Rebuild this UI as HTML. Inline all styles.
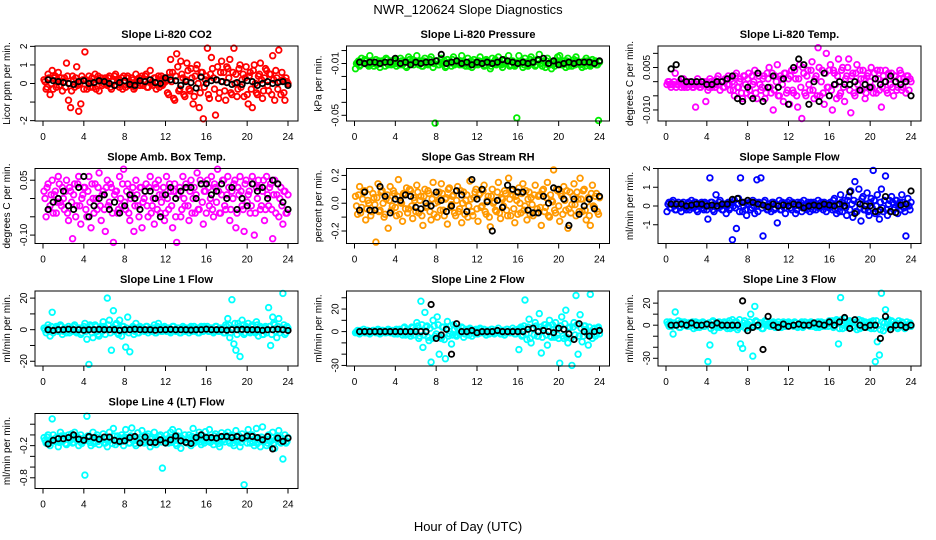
<!DOCTYPE html>
<html><head><meta charset="utf-8"><style>
html,body{margin:0;padding:0;background:#fff}
svg{display:block;font-family:"Liberation Sans",sans-serif}
</style></head><body>
<svg id="chart" width="936" height="540" viewBox="0 0 936 540" xmlns="http://www.w3.org/2000/svg">
<text x="468" y="14" font-size="13" text-anchor="middle">NWR_120624  Slope Diagnostics</text>
<text x="468" y="531" font-size="13" text-anchor="middle">Hour of Day (UTC)</text>
<g id="panels"></g>
</svg>
<script>
// shared x values (hour of day)
const colorHours = [];
for (let i = 0; i < 120; i++) colorHours.push(+(0.1 + 0.2 * i).toFixed(2));
const coreHours = [];
for (let i = 0; i < 120; i++) coreHours.push(+(0.2 + 0.2 * i).toFixed(2));
const blackHours = [];
for (let i = 0; i < 48; i++) blackHours.push(0.5 * (i + 1));
const xTicks = [0, 4, 8, 12, 16, 20, 24];

const co2Vals = [0.2,-0.3,0.5,-0.6,0.7,0.3,-0.2,0.6,0.1,-0.4, 0.3,1.1,-0.9,-1.3,0.4,-0.2,0.9,-1.5,-1.1,0.2, 1.7,-0.3,0.4,0.1,-0.2,0.5,0.2,-0.4,0.3,0.0, 0.3,-0.1,0.4,-0.3,0.2,0.5,0.1,-0.2,0.3,0.4, -0.2,0.4,0.1,0.3,-0.3,0.5,0.2,-0.1,0.4,0.2, 0.5,-0.2,0.7,0.1,0.3,-0.3,0.4,0.2,-0.1,0.3, 0.2,-0.6,1.3,0.6,-0.9,1.6,-0.4,1.2,0.3,-0.7, 1.1,-0.3,0.8,-1.1,0.4,1.0,-1.3,0.6,-1.9,0.2, 1.9,-0.8,1.4,0.3,-1.7,0.9,-0.5,1.2,0.6,-0.9, 0.8,1.3,-0.6,1.9,0.5,-0.3,1.0,0.2,-0.7,0.9, -1.1,0.6,-1.3,1.0,-0.5,0.4,1.1,-0.8,0.3,0.7, -0.4,0.5,1.5,-0.9,0.3,1.8,-0.6,0.2,-0.9,0.1];
const co2Core = [0.1,-0.2,0.3,0.0,-0.3,0.4,0.2,-0.1,0.3,0.1, -0.2,0.4,0.0,-0.4,0.2,0.3,-0.1,0.0,0.4,-0.3, 0.2,0.1,-0.2,0.3,0.0,-0.3,0.4,0.1,-0.1,0.2, 0.0,0.3,-0.2,0.1,0.4,-0.1,0.2,0.0,-0.3,0.1, 0.3,-0.1,0.0,0.2,-0.2,0.1,0.3,0.0,-0.1,0.4, -0.2,0.2,0.0,-0.1,0.3,0.1,-0.2,0.4,0.0,0.1, -0.5,0.6,0.1,-0.8,0.4,0.9,-0.3,0.5,-0.6,0.2, 0.7,-0.4,0.3,-0.7,0.8,0.0,-0.5,0.6,-0.2,0.4, -0.6,0.5,0.8,-0.3,0.2,-0.8,0.6,0.1,-0.4,0.9, 0.3,-0.5,0.6,0.0,-0.7,0.8,-0.2,0.5,0.3,-0.6, 0.4,-0.3,0.7,0.0,-0.6,0.5,0.2,-0.4,0.8,-0.1, 0.5,-0.6,0.2,0.7,-0.3,0.1,0.6,-0.5,0.3,0.0];
const co2Black = [0.2,0.15,0.1,0.05,0,-0.05,0.1,0.15,0.0,0.05,0.15,0.1,0.0,-0.1,0.05,0.15,-0.05,-0.1,0.15,0.1,0.2,0.05,0.0,0.3,0.2,0.15,-0.1,0.1,0.05,-0.25,0.35,0.0,0.15,0.2,0.1,0.05,-0.05,0.05,-0.05,0.15,0.1,-0.1,0.0,0.1,0.0,0.05,0.1,-0.1];

const presVals = [-0.014,-0.009,-0.012,-0.006,-0.010,-0.008,-0.011,-0.004,-0.009,-0.012, -0.007,-0.010,-0.013,-0.008,-0.009,-0.006,-0.011,-0.008,-0.010,-0.007, -0.012,-0.009,-0.006,-0.011,-0.008,-0.013,-0.005,-0.010,-0.007,-0.009, -0.004,-0.011,-0.008,-0.012,-0.006,-0.009,-0.010,-0.005,-0.013,-0.056, -0.008,-0.011,-0.006,-0.010,-0.013,-0.007,-0.009,-0.012,-0.005,-0.010, -0.008,-0.011,-0.004,-0.009,-0.012,-0.006,-0.010,-0.013,-0.007,-0.009, -0.011,-0.005,-0.009,-0.012,-0.007,-0.010,-0.014,-0.006,-0.009,-0.011, -0.005,-0.010,-0.013,-0.007,-0.009,-0.004,-0.011,-0.008,-0.012,-0.052, -0.004,-0.010,-0.013,-0.006,-0.009,-0.011,-0.005,-0.008,-0.012,-0.007, -0.003,-0.010,-0.008,-0.013,-0.006,-0.011,-0.014,-0.008,-0.010,-0.005, -0.004,-0.011,-0.008,-0.013,-0.006,-0.010,-0.012,-0.007,-0.005,-0.009, -0.011,-0.013,-0.008,-0.006,-0.010,-0.012,-0.007,-0.009,-0.011,-0.054];
const presCore = [-0.010,-0.008,-0.011,-0.009,-0.007,-0.010,-0.012,-0.008,-0.010,-0.009, -0.011,-0.008,-0.010,-0.009,-0.012,-0.007,-0.009,-0.011,-0.008,-0.010, -0.009,-0.011,-0.008,-0.010,-0.012,-0.009,-0.007,-0.010,-0.011,-0.008, -0.010,-0.009,-0.012,-0.008,-0.010,-0.011,-0.007,-0.009,-0.010,-0.008, -0.011,-0.009,-0.010,-0.008,-0.012,-0.010,-0.009,-0.007,-0.011,-0.009, -0.010,-0.008,-0.011,-0.009,-0.010,-0.012,-0.008,-0.009,-0.011,-0.010, -0.008,-0.010,-0.009,-0.011,-0.008,-0.010,-0.012,-0.009,-0.007,-0.010, -0.009,-0.011,-0.008,-0.010,-0.009,-0.012,-0.008,-0.010,-0.011,-0.009, -0.010,-0.008,-0.011,-0.009,-0.012,-0.007,-0.010,-0.009,-0.011,-0.008, -0.010,-0.012,-0.009,-0.008,-0.011,-0.010,-0.009,-0.012,-0.008,-0.010, -0.009,-0.011,-0.010,-0.008,-0.012,-0.009,-0.010,-0.011,-0.008,-0.010, -0.009,-0.010,-0.012,-0.008,-0.011,-0.009,-0.010,-0.008,-0.011,-0.009];
const presBlack = [-0.009,-0.010,-0.009,-0.009,-0.010,-0.009,-0.009,-0.006,-0.010,-0.009,-0.011,-0.009,-0.010,-0.009,-0.009,-0.008,-0.003,-0.010,-0.009,-0.008,-0.010,-0.009,-0.011,-0.009,-0.010,-0.009,-0.010,-0.009,-0.007,-0.008,-0.009,-0.010,-0.009,-0.010,-0.009,-0.007,-0.006,-0.010,-0.008,-0.011,-0.010,-0.009,-0.010,-0.009,-0.009,-0.009,-0.010,-0.008];

const tempVals = [-0.001,0.000,-0.002,-0.001,0.003,-0.001,0.000,-0.002,0.001,-0.001, -0.002,0.000,-0.001,-0.002,-0.009,0.001,-0.002,-0.001,0.000,-0.007, -0.003,0.001,-0.002,0.000,-0.001,0.002,-0.003,0.000,-0.002,0.001, 0.002,-0.003,0.000,-0.005,0.003,-0.002,0.001,-0.006,0.002,-0.004, 0.003,-0.005,-0.001,0.004,-0.006,0.002,-0.003,0.001,-0.006,0.003, 0.005,-0.004,-0.010,0.002,0.006,-0.005,0.001,-0.007,0.003,-0.003, -0.008,0.004,-0.004,0.001,-0.009,0.006,-0.013,0.003,-0.005,0.004, -0.003,0.007,-0.006,0.002,0.012,-0.005,0.004,-0.008,0.010,-0.002, 0.006,-0.010,0.003,-0.006,0.008,-0.004,0.005,-0.007,0.002,0.008, -0.011,0.003,-0.005,0.006,-0.003,0.001,0.004,-0.006,0.002,-0.002, 0.005,-0.004,0.001,0.004,-0.003,-0.009,0.002,0.004,-0.004,0.001, 0.003,-0.005,0.002,-0.002,0.004,-0.003,0.001,-0.004,0.002,0.001];
const tempCore = [0.000,-0.001,-0.001,0.000,-0.002,-0.001,0.000,-0.001,-0.002,0.000, -0.001,0.000,-0.002,-0.001,0.000,-0.001,-0.002,0.000,-0.001,0.000, -0.002,0.000,-0.001,-0.002,0.001,-0.001,0.000,-0.002,0.001,-0.001, -0.001,0.001,-0.003,0.002,-0.002,0.000,-0.004,0.002,-0.001,0.001, -0.003,0.002,0.000,-0.004,0.003,-0.001,-0.002,0.002,-0.004,0.001, -0.002,0.003,-0.003,0.000,-0.005,0.002,-0.001,0.003,-0.004,0.001, 0.002,-0.003,0.004,-0.005,0.001,-0.002,0.005,-0.004,0.002,-0.001, 0.004,-0.003,0.001,-0.005,0.005,0.000,-0.004,0.003,-0.002,0.004, -0.003,0.004,-0.001,0.002,-0.005,0.004,-0.002,0.001,0.005,-0.003, 0.002,-0.004,0.003,-0.001,0.004,-0.003,0.001,-0.004,0.003,0.000, -0.002,0.003,-0.004,0.001,0.004,-0.002,0.000,-0.003,0.003,-0.001, -0.002,0.002,-0.003,0.001,0.003,-0.002,0.000,0.002,-0.003,0.000];
const tempBlack = [0.0045,0.006,0.001,0.0,0.0,0.0,0.0,-0.001,-0.001,0.0,0.0,0.001,0.002,-0.006,-0.007,-0.002,-0.006,0.003,-0.007,-0.002,0.002,-0.002,0.001,-0.008,0.005,0.008,0.006,-0.008,0.0,-0.007,0.003,-0.005,-0.001,0.0,-0.001,-0.001,0.0,-0.003,-0.001,-0.002,0.001,-0.001,0.0,0.002,0.0,-0.001,0.0,-0.005];

const ambVals = [0.02,-0.05,0.04,-0.02,0.05,0.01,-0.04,0.06,-0.01,0.03, -0.03,0.05,-0.06,0.02,-0.11,0.04,-0.02,0.06,-0.07,0.01, 0.03,-0.05,0.06,-0.08,0.00,0.04,-0.03,0.07,-0.06,0.02, -0.09,0.05,-0.01,0.03,-0.12,0.02,-0.04,0.06,-0.02,0.08, -0.03,0.04,-0.06,0.01,-0.09,0.05,-0.02,0.03,-0.08,0.00, 0.04,-0.05,0.06,-0.02,-0.07,0.03,0.05,-0.04,0.01,-0.06, 0.06,-0.03,0.02,-0.08,0.04,-0.12,0.01,-0.05,0.06,-0.02, 0.03,-0.06,0.05,0.00,-0.04,0.07,-0.03,0.04,-0.07,0.02, 0.05,-0.02,0.06,-0.05,0.03,0.08,-0.04,0.01,0.05,-0.03, 0.06,-0.06,0.02,0.04,-0.08,0.03,0.06,-0.02,-0.09,0.05, 0.01,-0.04,0.06,-0.10,0.03,0.05,-0.03,0.02,-0.06,0.06, -0.02,0.04,-0.11,0.05,0.01,-0.05,0.03,-0.07,0.02,-0.04];
const ambCore = [0.00,0.03,-0.03,0.01,-0.04,0.02,-0.01,0.04,-0.02,0.00, 0.02,-0.04,0.03,-0.01,0.01,-0.05,0.04,-0.02,0.00,0.03, -0.03,0.02,-0.01,0.04,-0.04,0.00,0.03,-0.02,0.01,-0.03, 0.03,-0.02,0.04,-0.04,0.01,0.02,-0.03,0.00,0.04,-0.01, 0.02,-0.04,0.00,0.03,-0.02,0.01,-0.05,0.03,-0.01,0.02, -0.02,0.03,-0.04,0.00,0.04,-0.03,0.01,-0.01,0.03,-0.04, 0.00,0.04,-0.02,0.02,-0.05,0.01,0.03,-0.03,0.00,0.04, -0.02,0.02,-0.04,0.03,0.01,-0.03,0.05,-0.01,0.02,-0.04, 0.03,0.00,-0.03,0.04,-0.01,0.02,-0.04,0.05,-0.02,0.01, 0.03,-0.03,0.00,0.05,-0.04,0.01,0.02,-0.03,0.04,-0.01, 0.02,-0.02,0.04,-0.04,0.00,0.03,-0.02,0.05,-0.03,0.01, 0.03,-0.03,0.01,-0.04,0.04,0.00,-0.02,0.02,-0.04,0.01];
const ambBlack = [-0.03,-0.01,0.00,0.02,-0.02,-0.03,0.03,0.06,-0.05,-0.02,0.00,0.01,-0.03,-0.01,-0.04,-0.02,0.01,0.00,-0.03,0.02,0.02,0.00,-0.05,0.01,0.03,0.00,0.02,0.03,0.03,0.00,0.04,0.04,0.01,0.02,0.04,0.00,0.03,-0.03,0.00,-0.02,0.04,0.02,0.03,0.00,0.05,0.04,-0.01,-0.03];

const rhVals = [0.05,-0.08,0.12,-0.03,0.08,-0.12,0.02,0.10,-0.06,0.04, -0.28,0.14,-0.05,0.09,-0.10,0.03,-0.18,0.12,-0.02,0.07, -0.09,0.17,0.01,-0.13,0.06,0.11,-0.04,0.09,-0.11,0.02, 0.13,-0.07,0.05,-0.16,0.10,-0.02,0.07,-0.12,0.15,0.00, -0.10,0.08,0.14,-0.05,0.03,-0.15,0.11,-0.01,0.06,-0.09, 0.12,-0.04,-0.14,0.08,0.02,-0.10,0.16,-0.06,0.04,0.10, -0.13,0.07,-0.02,0.13,-0.08,0.05,-0.17,0.10,0.01,-0.06, 0.15,-0.11,0.03,0.09,-0.05,0.18,-0.09,0.06,-0.14,0.02, 0.11,-0.07,0.14,-0.02,-0.12,0.08,0.04,-0.09,0.13,-0.04, 0.06,-0.16,0.10,-0.03,0.15,-0.10,0.02,0.24,-0.07,0.09, -0.13,0.05,0.12,-0.05,-0.18,0.08,-0.01,0.14,-0.09,0.03, 0.18,-0.06,0.10,-0.12,0.04,-0.16,0.13,-0.03,0.07,-0.08];
const rhCore = [-0.02,0.06,-0.07,0.03,0.09,-0.04,0.00,-0.09,0.07,-0.01, 0.04,-0.06,0.08,0.00,-0.08,0.06,0.02,-0.05,0.09,-0.03, 0.05,-0.08,0.00,0.07,-0.04,-0.07,0.10,-0.02,0.04,-0.06, 0.08,0.02,-0.09,0.05,-0.03,0.09,-0.06,0.03,-0.08,0.06, 0.01,-0.05,0.07,-0.09,0.04,0.10,-0.03,0.05,-0.07,0.02, -0.06,0.09,0.00,-0.08,0.06,-0.02,0.03,-0.09,0.08,-0.04, 0.06,-0.03,0.09,-0.06,0.02,-0.10,0.05,0.00,-0.05,0.08, -0.07,0.04,-0.02,0.07,-0.09,0.03,0.09,-0.04,0.05,-0.08, 0.00,0.07,-0.05,0.09,0.03,-0.08,-0.01,0.06,-0.07,0.05, -0.03,0.09,-0.06,0.04,-0.09,0.06,0.01,-0.05,0.10,-0.02, 0.07,-0.08,0.02,0.09,-0.04,-0.07,0.05,-0.01,0.08,-0.06, 0.03,0.09,-0.05,0.01,-0.09,0.07,-0.02,0.05,-0.06,0.04];
const rhBlack = [-0.05,0.08,-0.05,-0.05,0.12,0.05,-0.07,0.03,0.02,0.06,0.05,-0.03,-0.04,0.00,-0.02,0.08,0.02,-0.06,-0.02,0.09,0.06,-0.06,0.17,0.03,0.10,0.01,-0.20,0.02,-0.03,0.13,0.10,0.08,0.08,-0.05,-0.07,-0.07,0.05,0.00,0.11,0.10,0.03,-0.16,0.03,-0.08,-0.02,0.03,-0.04,0.05];

const flowVals = [-0.3,0.2,-0.1,0.3,-0.2,0.1,0.0,-0.3,0.2,-0.1, 0.1,-0.2,0.3,-0.1,0.2,-0.3,0.0,0.2,-0.2,0.1, -0.7,1.5,0.2,-0.3,0.6,-0.1,0.3,-0.2,0.1,-0.4, 0.2,-0.1,-1.8,0.3,-1.2,0.4,1.5,-0.3,0.2,-0.5, 0.1,-0.2,0.3,-0.4,1.4,0.2,1.5,-1.6,0.3,-0.2, 0.1,-0.3,0.2,-0.1,-0.9,0.3,-0.2,0.1,-0.4,0.2, 0.3,-0.2,0.1,-0.4,0.2,0.0,-0.3,0.3,-0.1,0.2, -0.3,0.1,0.2,-0.2,0.3,-0.1,0.0,0.2,-0.3,0.1, 0.2,-0.2,0.4,-0.4,0.1,0.6,-0.3,0.3,-0.5,0.5, 0.8,-0.6,1.3,-0.3,0.9,-0.8,0.5,-0.2,0.7,-0.5, 0.4,1.9,-0.4,0.6,-0.7,0.9,-0.3,1.6,-0.5,0.3, 0.5,-0.2,0.3,-0.4,0.2,0.6,-0.1,-1.6,0.4,-0.2];
const flowCore = [0.1,-0.1,0.2,0.0,-0.2,0.2,-0.1,0.1,0.0,-0.2, 0.2,0.0,-0.1,0.2,-0.2,0.1,0.0,-0.1,0.2,-0.2, 0.0,0.2,-0.2,0.1,-0.1,0.2,0.0,-0.2,0.1,0.0, -0.2,0.2,0.0,-0.1,0.1,-0.3,0.2,0.0,-0.2,0.1, 0.2,-0.1,0.0,0.2,-0.3,0.1,-0.1,0.2,0.0,-0.2, 0.0,0.2,-0.2,0.1,0.0,-0.2,0.2,-0.1,0.1,0.0, -0.1,0.2,0.0,-0.2,0.1,0.2,-0.1,0.0,-0.2,0.1, 0.2,-0.2,0.0,0.1,-0.1,0.2,-0.2,0.0,0.1,-0.1, 0.0,0.3,-0.2,0.1,-0.3,0.2,0.0,-0.1,0.3,-0.2, 0.1,0.3,-0.3,0.2,-0.1,0.4,-0.2,0.1,-0.3,0.2, -0.1,0.3,0.0,-0.3,0.2,-0.1,0.3,-0.2,0.1,-0.3, 0.2,-0.1,0.3,0.0,-0.2,0.2,-0.3,0.1,0.0,0.2];
const flowBlack = [0.1,0.1,0.1,0.0,0.05,0.1,0.1,0.0,0.05,0.0,0.1,0.1,0.35,0.4,0.2,0.3,0.2,0.1,0.05,-0.05,0.1,0.0,0.05,0.0,0.1,0.05,-0.1,0.0,0.05,0.0,0.1,0.05,0.0,0.1,0.0,0.75,-0.4,0.1,0.0,0.0,-0.3,-0.2,0.5,-0.3,-0.35,0.05,0.1,0.8];

const line1Vals = [1,-2,3,-4,11,0,2,-1,3,-3, 1,-2,2,0,-1,3,-2,1,-3,0, 4,-6,-22,2,-5,3,-1,-4,2,5, -3,20,6,-13,12,3,-2,6,-4,2, -11,8,-14,1,-3,4,-2,2,0,-1, 2,-2,1,-1,3,-2,4,0,-1,2, -1,1,-2,2,0,-1,1,-2,2,-1, 1,-2,2,0,-1,1,-2,2,-1,1, 2,-1,1,-2,2,0,-1,1,-2,3, 7,-5,19,-9,-13,4,-17,6,-3,2, 4,-2,3,-1,5,-4,2,-3,1,-2, 14,-10,8,3,-5,7,0,23,-3,2];
const line1Core = [0,1,-1,2,-2,1,0,-1,2,-1, 1,0,-2,1,2,-1,0,1,-2,2, -1,1,3,-2,0,2,-3,1,-1,2, 0,3,-2,1,-1,4,-3,0,2,-1, 1,-2,0,2,-1,1,-2,1,0,-1, 2,0,-1,1,-2,2,0,-1,1,0, 1,-1,0,2,-1,1,-2,0,1,-1, 0,1,-1,2,0,-2,1,-1,2,0, -1,1,0,-1,2,-1,1,0,-2,2, 3,-2,1,4,-3,2,-1,3,-2,1, -1,2,0,-2,3,-1,1,-3,2,0, 2,-3,4,-1,2,-2,1,3,-2,1];
const line1Black = [0,-0.5,0,0,0.3,0,0,-0.3,0,0,0.2,0,0,0,-0.4,0,0,0.3,0,0,0,-0.3,0,0,0.2,0,0,0,-0.2,0,0,0.3,0,0,0,-0.3,0,0,0.2,0,0,0,-0.4,0,0,0.3,0,-0.5];

const line2Vals = [-1,1,-2,0,2,-1,1,-2,0,1, -1,2,-2,1,0,-1,2,-1,1,-2, 2,-1,1,-3,4,-2,1,-4,3,0, 8,-6,27,-14,17,5,-8,-27,10,-4, 13,-20,-6,4,-24,9,-2,-11,6,-3, 3,-2,4,-5,2,-1,3,-4,1,2, -2,3,-1,2,-3,1,0,2,-2,1, 3,-2,1,-3,2,0,-1,3,-2,1, -16,4,-3,28,-7,11,-10,2,8,-4, 16,-19,3,6,-12,10,-5,2,8,-3, -28,13,-6,19,-10,4,-30,8,32,-20, 15,-9,5,2,-12,33,-6,3,-2,4];
const line2Core = [0,-1,1,0,-1,1,0,-1,1,0, 1,-1,0,1,-1,0,1,-1,0,1, -2,2,-1,3,-3,2,-2,4,-3,2, 5,-4,6,-3,4,-5,3,-6,5,-2, 6,-5,4,-7,3,-4,5,-3,2,-4, 2,-1,3,-2,1,-3,2,0,-2,1, -1,2,0,-1,1,-2,2,0,-1,1, 0,-2,1,-1,2,-1,0,1,-2,2, 3,-4,5,-2,4,-6,3,-3,5,-4, 4,-5,6,-3,5,-4,6,-5,3,-6, 5,-4,7,-5,3,-6,4,-3,6,-4, 3,-4,5,-2,4,-3,2,-4,3,-2];
const line2Black = [0,0,0,0,0,0,0,0,0,0,0,0,0,0,24,-6,-3,2,-20,7,0,0,1,-1,0,0,0,1,0,0,0,0,0,2,3,0,1,0,-1,3,2,-2,-7,7,0,-4,0,1];

const line3Vals = [3,-1,2,-8,12,1,-2,3,0,2, -1,2,0,-3,3,1,-2,2,-1,1, -33,-18,3,-5,2,0,-2,1,3,-1, 2,-3,5,-1,3,-2,-17,-21,4,1, -2,10,-28,17,3,-1,2,-3,4,0, 2,-1,3,-2,1,0,-2,3,-1,2, 0,1,-1,2,-2,1,3,-1,0,2, -1,2,1,-2,3,0,-1,2,1,-1, 2,4,-1,5,-17,25,-3,6,-2,1, 3,-1,2,-4,5,1,-2,3,0,2, -3,4,-33,-15,-27,29,-5,14,3,-2, 4,-1,2,-3,1,3,-2,0,-1,2];
const line3Core = [1,3,-1,2,0,4,-2,1,3,0, 2,-1,3,1,-2,2,0,3,-1,1, 2,-3,4,0,-2,3,1,-1,2,-3, 4,0,-2,3,-4,5,-1,2,-3,1, 3,-2,0,4,-1,2,-3,1,3,0, -1,2,1,-2,3,0,2,-1,1,3, 2,0,3,-1,1,2,-2,3,0,1, 3,-1,2,0,-2,3,1,-1,2,4, 1,-2,4,2,-3,5,0,3,-1,4, 2,-2,3,1,-3,4,0,2,-2,3, 1,-3,4,0,-4,3,2,-2,5,0, 3,1,-2,4,0,2,-3,3,1,-1];
const line3Black = [0,0,1,0,2,0,0,1,0,2,0,0,0,0,22,-5,-2,0,-22,8,0,-2,1,-1,0,1,0,0,2,1,0,3,0,3,7,-3,5,0,-2,0,0,-12,8,-4,0,0,-2,0];

const line4Vals = [-0.05,-0.15,0.0,-0.2,0.3,-0.1,-0.05,-0.22,0.05,-0.12, -0.02,-0.18,0.0,-0.1,-0.15,0.05,-0.08,-0.2,0.0,-0.12, -0.75,0.35,-0.05,-0.2,0.05,-0.12,0.0,-0.18,-0.08,0.02, -0.15,-0.22,0.05,-0.08,0.12,-0.18,-0.02,-0.1,0.0,-0.2, 0.1,-0.05,-0.15,0.13,-0.1,-0.2,0.04,-0.08,0.08,-0.15, -0.1,0.02,-0.22,-0.05,0.05,-0.18,-0.08,0.0,-0.62,-0.1, 0.0,-0.15,0.05,0.1,-0.05,-0.2,0.06,-0.25,-0.08,0.0, -0.15,0.0,-0.2,0.12,-0.05,-0.12,0.05,-0.18,-0.02,0.06, -0.12,0.1,-0.05,-0.18,0.02,-0.1,-0.22,0.04,-0.08,0.0, 0.05,-0.15,0.0,-0.2,0.08,-0.1,-0.22,0.02,-0.93,-0.05, 0.1,-0.15,0.0,-0.2,0.12,-0.05,-0.22,0.15,-0.1,-0.2, 0.0,-0.12,0.05,-0.25,-0.1,0.08,-0.15,-0.45,0.0,-0.12];
const line4Core = [-0.1,-0.04,-0.16,-0.08,0.0,-0.12,-0.06,-0.14,-0.02,-0.1, -0.16,-0.06,-0.1,0.02,-0.14,-0.08,-0.04,-0.12,-0.16,-0.06, -0.1,-0.02,-0.14,-0.08,-0.16,-0.04,-0.12,-0.06,-0.1,-0.15, -0.05,-0.12,-0.08,-0.16,-0.02,-0.1,-0.14,-0.06,-0.12,-0.04, -0.08,-0.15,-0.02,-0.1,-0.16,-0.06,-0.12,-0.04,-0.14,-0.08, -0.02,-0.14,-0.08,-0.16,-0.06,-0.1,-0.03,-0.13,-0.07,-0.15, -0.1,-0.04,-0.14,-0.08,-0.16,-0.02,-0.12,-0.06,-0.1,-0.14, -0.06,-0.12,-0.03,-0.15,-0.08,-0.02,-0.13,-0.07,-0.15,-0.09, -0.04,-0.14,-0.08,-0.02,-0.12,-0.16,-0.06,-0.1,-0.13,-0.05, -0.11,-0.03,-0.15,-0.07,-0.12,-0.02,-0.14,-0.08,-0.05,-0.15, -0.08,-0.02,-0.14,-0.06,-0.16,-0.1,-0.04,-0.12,-0.07,-0.15, -0.1,-0.04,-0.16,-0.08,-0.02,-0.13,-0.06,-0.11,-0.15,-0.05];
const line4Black = [-0.17,-0.1,-0.07,-0.07,-0.05,0.0,-0.08,-0.1,-0.03,-0.05,-0.08,-0.04,-0.04,-0.1,-0.12,-0.11,-0.05,-0.03,-0.15,-0.04,-0.14,-0.14,-0.09,-0.15,-0.09,-0.02,-0.11,-0.14,-0.16,-0.05,0.0,-0.05,-0.05,-0.06,-0.03,-0.03,-0.05,-0.03,-0.06,-0.02,-0.03,-0.05,-0.09,-0.03,-0.26,-0.06,-0.12,-0.06];

const panelTitles = ["Slope Li-820 CO2","Slope Li-820 Pressure","Slope Li-820 Temp.","Slope Amb. Box Temp.","Slope Gas Stream RH","Slope Sample Flow","Slope Line 1 Flow","Slope Line 2 Flow","Slope Line 3 Flow","Slope Line 4 (LT) Flow"];
const yTitles = ["Licor ppm per min.","kPa per min.","degrees C per min.","degrees C per min.","percent per min.","ml/min per min.","ml/min per min.","ml/min per min.","ml/min per min.","ml/min per min."];
const yTickVals = [[-2,-1,0,1,2],[0,-0.01,-0.02,-0.03,-0.04,-0.05],[0.01,0.005,0,-0.005,-0.01],[0.05,0,-0.05,-0.1],[0.2,0.1,0,-0.1,-0.2],[2,1,0,-1],[20,10,0,-10,-20],[30,20,10,0,-10,-20,-30],[20,10,0,-10,-20,-30],[0.2,0,-0.2,-0.4,-0.6,-0.8]];
const yTickLabels = [["-2","","0","1","2"],["","-0.01","","","","-0.05"],["","0.005","","","-0.010"],["0.05","","","-0.10"],["0.2","","0.0","","-0.2"],["2","1","0","-1"],["20","","0","","-20"],["","20","","0","","","-30"],["20","","0","","","-30"],["","","-0.2","","","-0.8"]];
const yMin = [-2.02,-0.0544,-0.0139,-0.123,-0.29,-2.0,-23,-30.5,-37,-1.0];
const yMax = [2.02,0.0035,0.0126,0.082,0.25,2.0,24.5,36,31,0.4];
const seriesVals = [co2Vals,presVals,tempVals,ambVals,rhVals,flowVals,line1Vals,line2Vals,line3Vals,line4Vals];
const seriesCore = [co2Core,presCore,tempCore,ambCore,rhCore,flowCore,line1Core,line2Core,line3Core,line4Core];
const seriesBlack = [co2Black,presBlack,tempBlack,ambBlack,rhBlack,flowBlack,line1Black,line2Black,line3Black,line4Black];
const seriesColors = ["#ff0000","#00ee00","#ff00ff","#ff00ff","#ff9900","#0000ff","#00ffff","#00ffff","#00ffff","#00ffff"];
const panelKeys = ["co2","pressure","li820-temp","amb-box-temp","gas-stream-rh","sample-flow","line1-flow","line2-flow","line3-flow","line4-flow"];

const NS = "http://www.w3.org/2000/svg";
const root = document.getElementById("panels");
function mk(tag, attrs, parent) {
  const e = document.createElementNS(NS, tag);
  for (const k in attrs) e.setAttribute(k, attrs[k]);
  parent.appendChild(e);
  return e;
}
const BOX_W = 263, BOX_H = 75;
function boxOf(p) { const c = p % 3, r = Math.floor(p / 3); return { left: 35 + 311.5 * c, top: 46 + 122.5 * r }; }
function xScale(p, h) { const b = boxOf(p); return b.left + 8 + h * (245 / 24); }
function yScale(p, v) { const b = boxOf(p); return b.top + (yMax[p] - v) / (yMax[p] - yMin[p]) * BOX_H; }

for (let p = 0; p < 10; p++) {
  const b = boxOf(p);
  const g = mk("g", {}, root);
  
  
  const t = mk("text", { x: b.left + BOX_W / 2, y: b.top - 8, "font-size": 11, "font-weight": "bold", "text-anchor": "middle" }, g);
  t.textContent = panelTitles[p];
  
  
  const yt = mk("text", { x: 0, y: 0, "font-size": 10, "text-anchor": "middle", transform: `translate(${b.left - 25},${b.top + BOX_H / 2}) rotate(-90)` }, g);
  yt.textContent = yTitles[p];
  
  
  const cv = seriesVals[p];
  for (let i = 0; i < cv.length; i++) {
    const c = mk("circle", { cx: xScale(p, colorHours[i]).toFixed(1), cy: yScale(p, cv[i]).toFixed(1), r: 2.8, fill: "none", stroke: seriesColors[p], "stroke-width": 1.8 }, g);
    
    
  }
  const kv = seriesCore[p];
  for (let i = 0; i < kv.length; i++) {
    const c = mk("circle", { cx: xScale(p, coreHours[i]).toFixed(1), cy: yScale(p, kv[i]).toFixed(1), r: 2.8, fill: "none", stroke: seriesColors[p], "stroke-width": 1.8 }, g);
    
    
  }
  const bv = seriesBlack[p];
  for (let i = 0; i < bv.length; i++) {
    const c = mk("circle", { cx: xScale(p, blackHours[i]).toFixed(1), cy: yScale(p, bv[i]).toFixed(1), r: 2.7, fill: "none", stroke: "#000", "stroke-width": 1.8 }, g);
    
    
  }
  const box = mk("rect", { x: b.left, y: b.top, width: BOX_W, height: BOX_H, fill: "none", stroke: "#000", "stroke-width": 1 }, g);
  
  
  const by = b.top + BOX_H;
  for (let i = 0; i < xTicks.length; i++) {
    const x = xScale(p, xTicks[i]);
    mk("line", { x1: x, y1: by, x2: x, y2: by + 5, stroke: "#000" }, g);
    const lt = mk("text", { x: x, y: by + 19, "font-size": 10, "text-anchor": "middle" }, g);
    lt.textContent = xTicks[i];
    
    
  }
  const tv = yTickVals[p];
  for (let i = 0; i < tv.length; i++) {
    const y = yScale(p, tv[i]);
    mk("line", { x1: b.left - 5, y1: y, x2: b.left, y2: y, stroke: "#000" }, g);
    if (yTickLabels[p][i]) {
      const lt = mk("text", { x: 0, y: 0, "font-size": 10, "text-anchor": "middle", transform: `translate(${b.left - 8},${y}) rotate(-90)` }, g);
      lt.textContent = yTickLabels[p][i];
      
      
    }
  }
}
</script>
</body></html>
